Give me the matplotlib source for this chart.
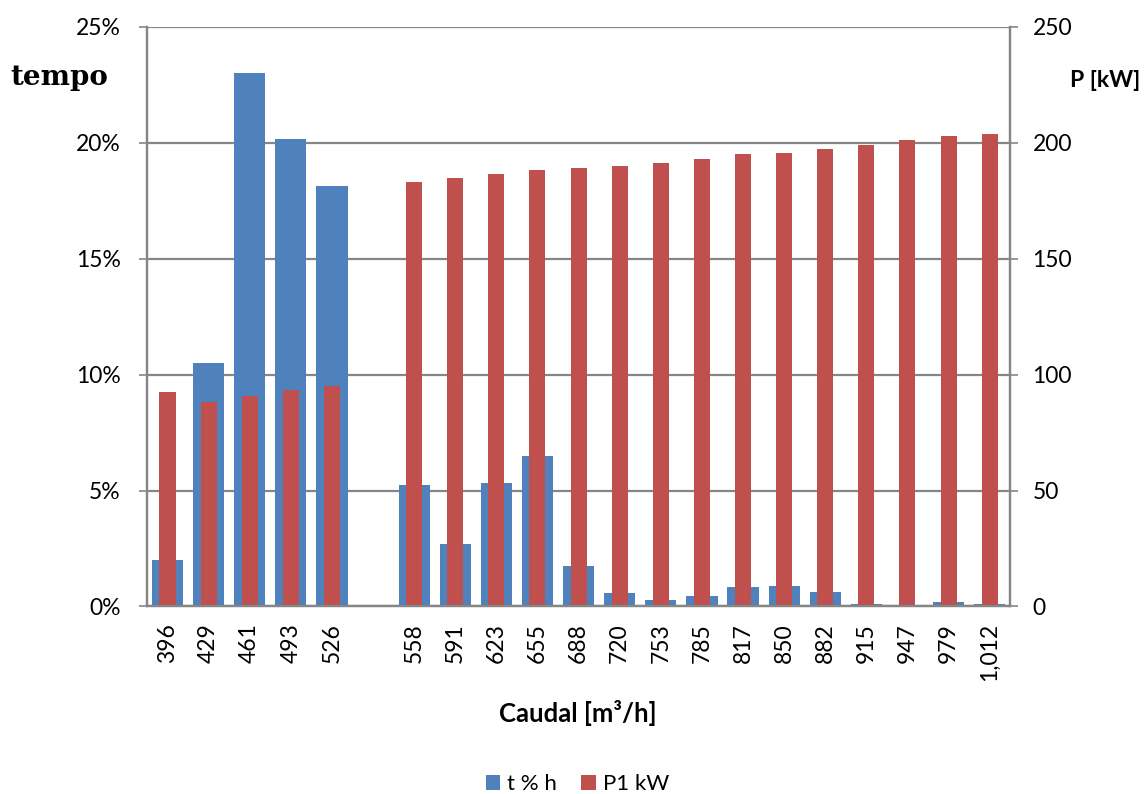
import numpy as np
import matplotlib
matplotlib.use("Agg")
import matplotlib.pyplot as plt
from matplotlib.ticker import PercentFormatter

# categories (blank slot between 526 and 558 as in the source sheet)
caudal = ["396", "429", "461", "493", "526", "",
          "558", "591", "623", "655", "688", "720", "753", "785",
          "817", "850", "882", "915", "947", "979", "1,012"]

# t % h  (percent of time)
t_pct = [2.0, 10.5, 23.0, 20.15, 18.13, np.nan,
         5.25, 2.7, 5.34, 6.48, 1.76, 0.59, 0.29, 0.46,
         0.84, 0.9, 0.63, 0.12, 0.0, 0.19, 0.12]

# P1 kW
p1_kw = [92.5, 88.4, 91.0, 93.3, 95.3, np.nan,
         183.1, 184.8, 186.5, 188.1, 189.3, 190.1, 191.3, 193.0,
         195.2, 195.6, 197.2, 199.2, 201.2, 203.1, 203.7]

blue = "#4F81BD"
red = "#C0504D"
grey = "#868686"
sans = ["Lato", "DejaVu Sans"]

plt.rcParams["font.family"] = sans

fig = plt.figure(figsize=(11.48, 7.94), dpi=100)
ax = fig.add_axes([0.128, 0.2362, 0.752, 0.7298])
ax2 = ax.twinx()

x = np.arange(len(caudal))
b1 = ax.bar(x, t_pct, width=0.76, color=blue, linewidth=0, label="t % h")
b2 = ax2.bar(x, p1_kw, width=0.39, color=red, linewidth=0, label="P1 kW")

ax.set_xlim(-0.5, len(caudal) - 0.5)
ax.set_ylim(0, 25)
ax2.set_ylim(0, 250)
ax.set_yticks([0, 5, 10, 15, 20, 25])
ax2.set_yticks([0, 50, 100, 150, 200, 250])
ax.yaxis.set_major_formatter(PercentFormatter(decimals=0))

ax.set_axisbelow(True)
ax.grid(axis="y", color=grey, linewidth=1.6)
ax.grid(axis="x", visible=False)

ax.set_xticks(x)
ax.set_xticklabels(caudal, rotation=90, fontsize=16.5)
ax.tick_params(axis="x", length=0, pad=12)
ax.tick_params(axis="y", labelsize=16.5, length=6, width=1.2, color=grey, pad=13)
ax2.tick_params(axis="y", labelsize=16.5, length=6, width=1.2, color=grey, pad=10)

for a in (ax, ax2):
    a.spines["top"].set_visible(False)
    for s in ("left", "right", "bottom"):
        a.spines[s].set_color(grey)
        a.spines[s].set_linewidth(1.6)

fig.text(0.009, 0.902, "tempo", fontsize=20, fontweight="bold",
         family=["DejaVu Serif"], ha="left", va="center")
fig.text(0.993, 0.899, "P [kW]", fontsize=16.5, fontweight="bold",
         ha="right", va="center")
fig.text(0.503, 0.102, "Caudal [m³/h]", fontsize=18.5, fontweight="bold",
         ha="center", va="center")

fig.legend([b1, b2], ["t % h", "P1 kW"], loc="center", bbox_to_anchor=(0.503, 0.012),
           ncol=2, frameon=False, fontsize=16, handlelength=0.65, handleheight=0.65,
           handletextpad=0.3, columnspacing=1.1)

fig.savefig("out.png", dpi=100)
